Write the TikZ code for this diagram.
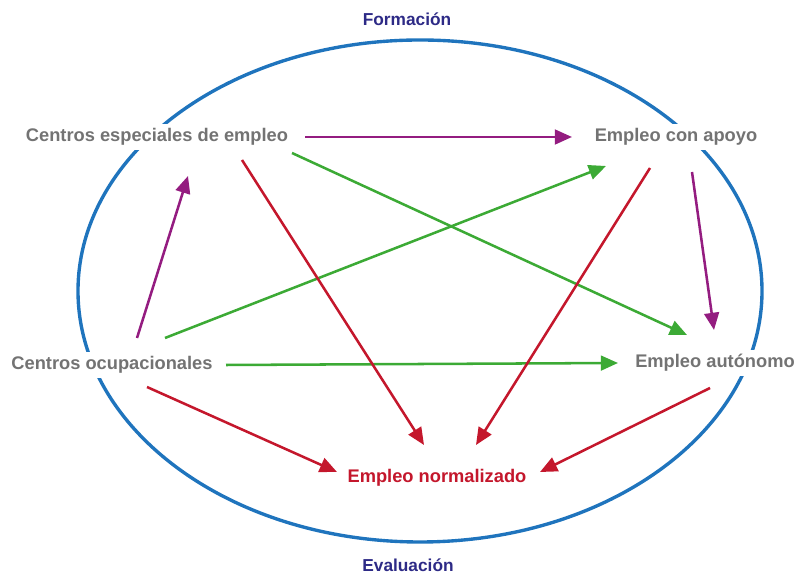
\documentclass[tikz,border=0pt]{standalone}
\usepackage{fontspec}
\setmainfont{Liberation Sans}
\usepackage{tikz}
\usepackage{xcolor}
\usetikzlibrary{arrows.meta,positioning}
\definecolor{ringblue}  {HTML}{1F74BD}
\definecolor{titleblue} {HTML}{2D2A86}
\definecolor{labelgray} {HTML}{737373}
\definecolor{linkred}   {HTML}{C4172C}
\definecolor{linkgreen} {HTML}{3CAA35}
\definecolor{linkpurple}{HTML}{941C80}
\tikzset{
  stagenode/.style ={inner sep=3pt, fill=white, text=labelgray,
                     font=\fontsize{13}{15}\selectfont\bfseries},
  goalnode/.style  ={inner sep=3pt, fill=white, text=linkred,
                     font=\fontsize{13}{15}\selectfont\bfseries},
  titlenode/.style ={inner sep=0pt, text=titleblue,
                     font=\fontsize{12.3}{14}\selectfont\bfseries},
  purplearr/.style ={-{Triangle[length=4.3mm,width=3.7mm]}, line width=1.8pt, color=linkpurple},
  greenarr/.style  ={-{Triangle[length=4.3mm,width=3.7mm]}, line width=1.8pt, color=linkgreen},
  redarr/.style    ={-{Triangle[length=4.3mm,width=3.7mm]}, line width=1.8pt, color=linkred},
}
\begin{document}
\begin{tikzpicture}
    \useasboundingbox (0,0) rectangle (19.95,14.325);
    \draw[ringblue, line width=2.4pt] (10.5,7.05) ellipse [x radius=8.55, y radius=6.275];

    \node[titlenode] (form) at (10.175,13.85) {Formación};
    \node[titlenode] (eval) at (10.2,0.2) {Evaluación};

    \node[stagenode] (ce)  at (3.925,10.9)  {Centros especiales de empleo};
    \node[stagenode] (eca) at (16.9,10.9)   {Empleo con apoyo};
    \node[stagenode] (co)  at (2.8,5.2)     {Centros ocupacionales};
    \node[stagenode] (ea)  at (17.875,5.25) {Empleo autónomo};
    \node[goalnode]  (en)  at (10.925,2.375) {Empleo normalizado};

    % purple links
    \draw[purplearr] ([shift={(3.7,0)}]ce.center) -- ([shift={(-2.6,0)}]eca.center);
    \draw[purplearr] ([shift={(0.625,0.675)}]co.center) -- ([shift={(0.775,-0.975)}]ce.center);
    \draw[purplearr] ([shift={(0.4,-0.875)}]eca.center) -- ([shift={(-0.025,0.825)}]ea.center);

    % green links
    \draw[greenarr] ([shift={(1.325,0.675)}]co.center) -- ([shift={(-1.75,-0.725)}]eca.center);
    \draw[greenarr] ([shift={(3.375,-0.4)}]ce.center) -- ([shift={(-0.7,0.7)}]ea.center);
    \draw[greenarr] ([shift={(2.85,0)}]co.center) -- ([shift={(-2.425,0)}]ea.center);

    % red links
    \draw[redarr] ([shift={(2.125,-0.575)}]ce.center) -- ([shift={(-0.325,0.825)}]en.center);
    \draw[redarr] ([shift={(-0.65,-0.775)}]eca.center) -- ([shift={(0.975,0.825)}]en.center);
    \draw[redarr] ([shift={(0.875,-0.55)}]co.center) -- ([shift={(-2.5,0.15)}]en.center);
    \draw[redarr] ([shift={(-0.125,-0.625)}]ea.center) -- ([shift={(2.575,0.15)}]en.center);
\end{tikzpicture}
\end{document}
